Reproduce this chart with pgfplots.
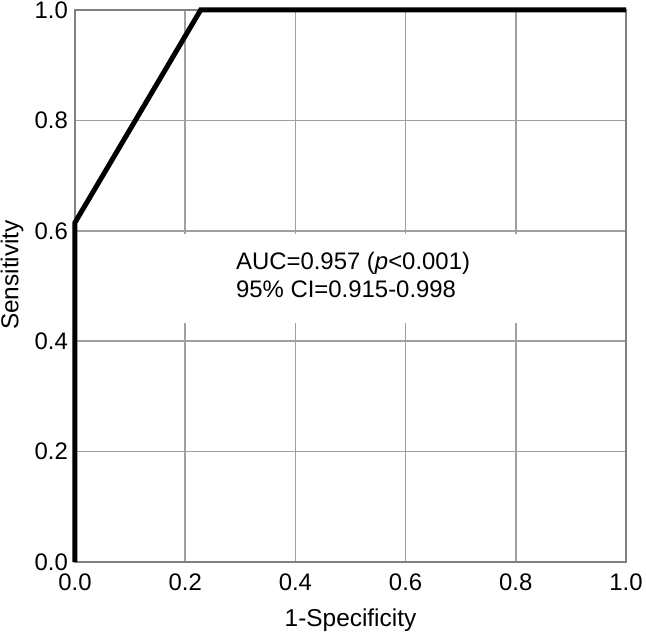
\documentclass[border=0pt]{standalone}
\usepackage{fontspec}
\setmainfont{Liberation Sans}
\usepackage{pgfplots}
\pgfplotsset{compat=1.18}
\definecolor{gridgray}{HTML}{A0A0A0}
\definecolor{framegray}{HTML}{808080}
\begin{document}
\begin{tikzpicture}
\useasboundingbox (-75bp,-81bp) rectangle (571bp,562bp);
\begin{axis}[
  at={(0,0)}, anchor=south west,
  scale only axis,
  width=551bp, height=552bp,
  xmin=0, xmax=1, ymin=0, ymax=1,
  xtick={0,0.2,0.4,0.6,0.8,1.0},
  ytick={0,0.2,0.4,0.6,0.8,1.0},
  xticklabels={0.0,0.2,0.4,0.6,0.8,1.0},
  yticklabels={0.0,0.2,0.4,0.6,0.8,1.0},
  tick label style={font=\fontsize{24}{27}\selectfont},
  major tick length=0pt,
  grid=major,
  major grid style={draw=gridgray, line width=1.6bp},
  axis line style={draw=framegray, line width=1.8bp},
  xlabel={1-Specificity},
  ylabel={Sensitivity},
  label style={font=\fontsize{24.5}{28}\selectfont},
  xlabel style={at={(rel axis cs:0.5,0)}, anchor=center, yshift=-58bp},
  ylabel style={at={(rel axis cs:0,0.52)}, anchor=center, yshift=63bp, inner sep=0.5bp},
  xticklabel style={yshift=-8bp},
  yticklabel style={inner sep=1bp, xshift=-6bp},
  clip=false,
]
\fill[white] (axis cs:0.195,0.433) rectangle (axis cs:0.81,0.594);
\addplot[black, line width=5bp, line join=miter] coordinates {
  (0,0) (0,0.615) (0.228,1.0) (1.0,1.0)
};
\node[anchor=west, align=left, font=\fontsize{24}{28}\selectfont, inner sep=0pt] at (axis cs:0.292,0.52) {AUC=0.957 (\textit{p}<0.001)\\95\% CI=0.915-0.998};
\end{axis}
\end{tikzpicture}
\end{document}
